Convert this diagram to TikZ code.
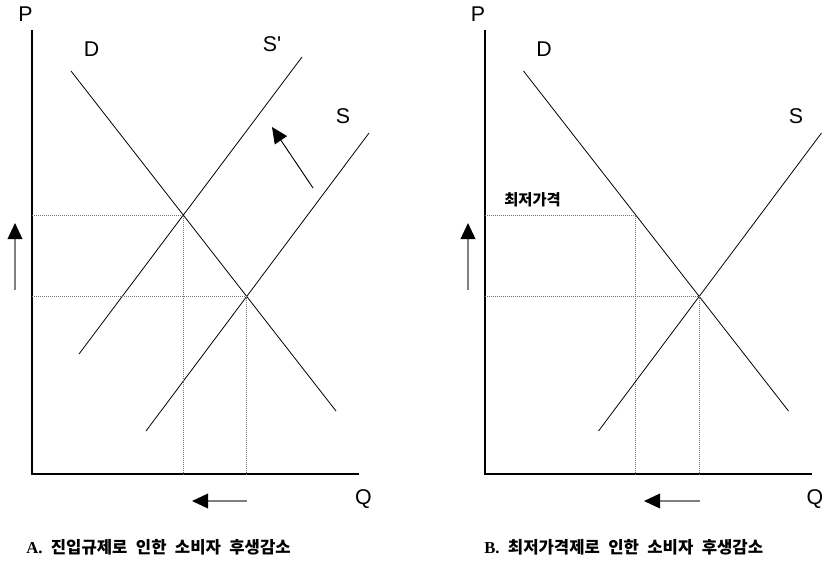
\documentclass[tikz,border=0pt]{standalone}
\usepackage{fontspec}
\setmainfont{Liberation Sans}
\newfontfamily\cjk[WordSpace=2.2]{Noto Sans CJK KR}
\newfontfamily\serifb{Liberation Serif}
\usetikzlibrary{arrows.meta,intersections}
\begin{document}
\begin{tikzpicture}[x=0.75pt,y=-0.75pt,
  axis/.style={line width=1.5pt},
  curve/.style={line width=0.6pt},
  guide/.style={line width=0.6pt, black!55, dash pattern=on 0.75pt off 0.75pt},
  shiftarrow/.style={line width=1.1pt, black!50, -{Triangle[length=12pt,width=11pt,color=black]}},
  movearrow/.style={line width=0.7pt, black, -{Triangle[length=12pt,width=11pt,color=black]}},
  lbl/.style={font=\fontsize{16}{18}\selectfont, inner sep=0pt},
  floorlbl/.style={font=\cjk\bfseries\fontsize{11.5}{13}\selectfont, inner sep=0pt},
  captiontext/.style={font=\cjk\bfseries\fontsize{12.5}{14}\selectfont, anchor=west, inner sep=0pt}]
\useasboundingbox (0,0) rectangle (823,560);

% ---------------- Panel A ----------------
\coordinate (Atop) at (32,30);
\coordinate (Aorig) at (32,474);
\coordinate (Aend) at (359,474);
\draw[axis] (Atop) -- (Aorig) -- (Aend);
\node[lbl] (AP) at (25.5,14.5) {P};
\node[lbl] (AQ) at (363.5,499.5) {Q};

\coordinate (AD1) at (71,71);   \coordinate (AD2) at (336,411);
\coordinate (ASp1) at (302,57); \coordinate (ASp2) at (79,354);
\coordinate (AS1) at (369,133); \coordinate (AS2) at (146,431);
\draw[curve, name path=AD] (AD1) -- (AD2);
\draw[curve, name path=ASp] (ASp1) -- (ASp2);
\draw[curve, name path=AS] (AS1) -- (AS2);
\node[lbl] (ADl) at (91.5,49) {D};
\node[lbl] (ASpl) at (272,44.5) {S\textquotesingle};
\node[lbl] (ASl) at (343,116) {S};

\path[name intersections={of=AD and ASp, by=AE1}];
\path[name intersections={of=AD and AS, by=AE2}];
\draw[guide] (AE1 -| Aorig) -- (AE1) -- (AE1 |- Aorig);
\draw[guide] (AE2 -| Aorig) -- (AE2) -- (AE2 |- Aorig);

\coordinate (Aup0) at (15,290); \coordinate (Aup1) at (15,223);
\draw[shiftarrow] (Aup0) -- (Aup1);
\coordinate (Al0) at (247,501); \coordinate (Al1) at (192,501);
\draw[shiftarrow] (Al0) -- (Al1);
\coordinate (Ad0) at (313,188); \coordinate (Ad1) at (272,127);
\draw[movearrow] (Ad0) -- (Ad1);

\node[captiontext] (Acap) at (26,547) {{\serifb\bfseries A.} 진입규제로 인한 소비자 후생감소};

% ---------------- Panel B ----------------
\coordinate (Btop) at (484.5,30);
\coordinate (Borig) at (484.5,474);
\coordinate (Bend) at (811.5,474);
\draw[axis] (Btop) -- (Borig) -- (Bend);
\node[lbl] (BP) at (478,14.5) {P};
\node[lbl] (BQ) at (815,499.5) {Q};

\coordinate (BD1) at (523.5,71); \coordinate (BD2) at (788.5,411);
\coordinate (BS1) at (821.5,133); \coordinate (BS2) at (598.5,431);
\draw[curve, name path=BD] (BD1) -- (BD2);
\draw[curve, name path=BS] (BS1) -- (BS2);
\node[lbl] (BDl) at (544,49) {D};
\node[lbl] (BSl) at (796,116) {S};

\path[name path=Bfloor] (AE1 -| Borig) -- ++(340,0);
\path[name intersections={of=BD and Bfloor, by=BF}];
\path[name intersections={of=BD and BS, by=BE}];
\draw[guide] (BF -| Borig) -- (BF) -- (BF |- Borig);
\draw[guide] (BE -| Borig) -- (BE) -- (BE |- Borig);
\node[floorlbl] (Bfl) at (532.5,200) {최저가격};

\coordinate (Bup0) at (468,290); \coordinate (Bup1) at (468,223);
\draw[shiftarrow] (Bup0) -- (Bup1);
\coordinate (Bl0) at (700,501); \coordinate (Bl1) at (644,501);
\draw[shiftarrow] (Bl0) -- (Bl1);

\node[captiontext] (Bcap) at (484,547) {{\serifb\bfseries B.} 최저가격제로 인한 소비자 후생감소};
\end{tikzpicture}
\end{document}
